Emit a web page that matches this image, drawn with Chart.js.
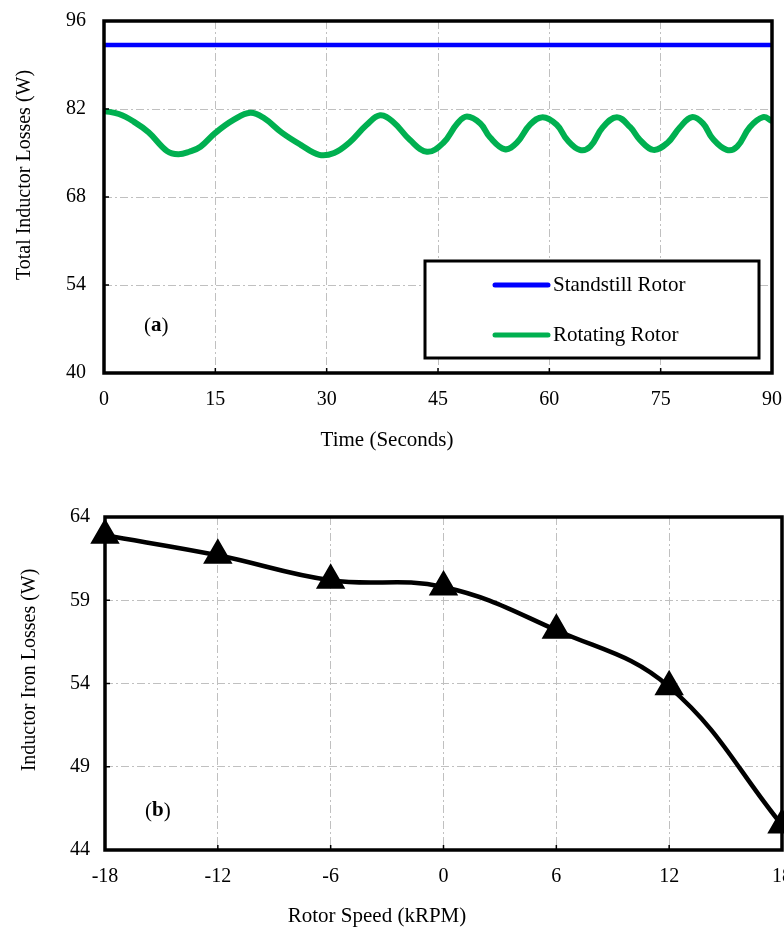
<!DOCTYPE html>
<html>
<head>
<meta charset="utf-8">
<script src="https://cdn.jsdelivr.net/npm/chart.js@4.4.1/dist/chart.umd.min.js"></script>
<style>
  html, body { margin: 0; padding: 0; background: #fff; }
  .box { position: relative; width: 784px; }
  #boxA { height: 470px; }
  #boxB { height: 464px; }
</style>
</head>
<body>
<div class="box" id="boxA"><canvas id="chartA"></canvas></div>
<div class="box" id="boxB"><canvas id="chartB"></canvas></div>
<script>
// ---------- Data (a) ----------
const standstillTime = [0, 90];
const standstillLoss = [92.2, 92.2];
const rotatingTime = [0, 2, 4, 6, 8.5, 10, 11.5, 13, 15, 17.5, 19.7, 21.5, 24, 26.5, 29, 31, 33, 35.4, 37.2, 39, 41.2, 43.5, 45.7, 47.6, 48.9, 50.7, 52, 54, 55.6, 57.4, 59.1, 61, 62.4, 64.1, 65.5, 67.2, 69.1, 70.9, 72.2, 74, 75.9, 77.6, 79.2, 80.7, 82, 83.9, 85.3, 87, 88.8, 90];
const rotatingLoss = [81.7, 81.2, 80.0, 78.3, 75.3, 74.8, 75.2, 76.0, 78.2, 80.3, 81.4, 80.6, 78.2, 76.3, 74.7, 75.0, 76.6, 79.5, 81.0, 79.9, 77.1, 75.2, 76.6, 79.7, 80.8, 79.7, 77.5, 75.6, 76.6, 79.5, 80.7, 79.5, 77.1, 75.5, 76.0, 79.1, 80.7, 79.1, 77.1, 75.5, 76.6, 79.1, 80.7, 79.7, 77.3, 75.5, 76.0, 79.1, 80.7, 80.1];
const seriesLabels = ["Standstill Rotor", "Rotating Rotor"];
const timeTicks = [0, 15, 30, 45, 60, 75, 90];
const lossTicksA = [40, 54, 68, 82, 96];

// ---------- Data (b) ----------
const rotorSpeed = [-18, -12, -6, 0, 6, 12, 18];
const ironLoss = [62.9, 61.7, 60.2, 59.8, 57.2, 53.8, 45.5];
const speedTicks = [-18, -12, -6, 0, 6, 12, 18];
const lossTicksB = [44, 49, 54, 59, 64];

const FONT = "'Liberation Serif', 'Times New Roman', serif";
const GRID = { color: '#c0c0c0', lineWidth: 1, drawTicks: false };
const BORDER = { display: false, dash: [8, 3, 2, 3] };

function toXY(xs, ys) { return xs.map((x, i) => ({ x: x, y: ys[i] })); }

function framePlugin(opts) {
  return {
    id: 'frame' + opts.id,
    afterDraw(chart) {
      const ctx = chart.ctx, a = chart.chartArea;
      const xs = chart.scales.x, ys = chart.scales.y;
      ctx.save();
      ctx.strokeStyle = '#000'; ctx.lineWidth = 1.5;
      xs.ticks.forEach(t => {
        const px = xs.getPixelForValue(t.value);
        ctx.beginPath(); ctx.moveTo(px, a.bottom); ctx.lineTo(px, a.bottom - 5); ctx.stroke();
      });
      ys.ticks.forEach(t => {
        const py = ys.getPixelForValue(t.value);
        ctx.beginPath(); ctx.moveTo(a.left, py); ctx.lineTo(a.left + 5, py); ctx.stroke();
      });
      ctx.lineWidth = 3.5; ctx.strokeStyle = '#000';
      ctx.strokeRect(a.left, a.top, a.right - a.left, a.bottom - a.top);
      ctx.fillStyle = '#000';
      ctx.font = '21px ' + FONT;
      ctx.textAlign = 'center'; ctx.textBaseline = 'middle';
      ctx.fillText(opts.xTitle, opts.xTitleX, opts.xTitleY);
      ctx.save();
      ctx.font = '20px ' + FONT;
      ctx.translate(opts.yTitleX, opts.yTitleY);
      ctx.rotate(-Math.PI / 2);
      ctx.fillText(opts.yTitle, 0, 0);
      ctx.restore();
      ctx.textAlign = 'left';
      const tx = opts.tagX, ty = opts.tagY;
      ctx.font = '21px ' + FONT;
      let w1 = ctx.measureText('(').width;
      ctx.fillText('(', tx, ty);
      ctx.font = 'bold 21px ' + FONT;
      let w2 = ctx.measureText(opts.tag).width;
      ctx.fillText(opts.tag, tx + w1, ty);
      ctx.font = '21px ' + FONT;
      ctx.fillText(')', tx + w1 + w2, ty);
      if (opts.legend) {
        const L = opts.legend;
        ctx.fillStyle = '#fff';
        ctx.fillRect(L.x, L.y, L.w, L.h);
        ctx.lineWidth = 3; ctx.strokeStyle = '#000';
        ctx.strokeRect(L.x, L.y, L.w, L.h);
        chart.data.datasets.forEach((ds, i) => {
          const ly = L.y + 24 + i * 50;
          ctx.strokeStyle = ds.borderColor; ctx.lineWidth = 5; ctx.lineCap = 'round';
          ctx.beginPath(); ctx.moveTo(L.x + 70, ly); ctx.lineTo(L.x + 123, ly); ctx.stroke();
          ctx.fillStyle = '#000'; ctx.font = '21px ' + FONT;
          ctx.textAlign = 'left'; ctx.textBaseline = 'middle';
          ctx.fillText(ds.label, L.x + 128, ly);
        });
      }
      ctx.restore();
    }
  };
}

function fixScale(width, height) {
  return function (scale) {
    if (width !== null) scale.width = width;
    if (height !== null) scale.height = height;
    scale.paddingLeft = 0; scale.paddingRight = 0;
    scale.paddingTop = 0; scale.paddingBottom = 0;
  };
}

// ---------- Chart (a) ----------
new Chart(document.getElementById('chartA'), {
  type: 'line',
  data: {
    datasets: [
      { label: seriesLabels[0], data: toXY(standstillTime, standstillLoss), borderColor: '#0000ff', borderWidth: 4.5, pointRadius: 0, tension: 0 },
      { label: seriesLabels[1], data: toXY(rotatingTime, rotatingLoss), borderColor: '#00b050', borderWidth: 6, pointRadius: 0, tension: 0.4 }
    ]
  },
  options: {
    responsive: true, maintainAspectRatio: false, animation: false,
    layout: { autoPadding: false, padding: { top: 21, right: 12, left: 0, bottom: 0 } },
    plugins: { legend: { display: false }, tooltip: { enabled: false } },
    scales: {
      x: {
        type: 'linear', min: 0, max: 90,
        afterBuildTicks: s => { s.ticks = timeTicks.map(v => ({ value: v })); },
        afterFit: fixScale(null, 97),
        grid: GRID, border: BORDER,
        ticks: { color: '#000', padding: 15, font: { family: FONT, size: 20 }, maxRotation: 0 }
      },
      y: {
        min: 40, max: 96,
        afterBuildTicks: s => { s.ticks = lossTicksA.map(v => ({ value: v })); },
        afterFit: fixScale(104, null),
        grid: GRID, border: BORDER,
        ticks: { color: '#000', padding: 18, font: { family: FONT, size: 20 } }
      }
    }
  },
  plugins: [framePlugin({
    id: 'A', xTitle: 'Time (Seconds)', xTitleX: 387, xTitleY: 440,
    yTitle: 'Total Inductor Losses (W)', yTitleX: 25, yTitleY: 175,
    tag: 'a', tagX: 144, tagY: 326,
    legend: { x: 425, y: 261, w: 334, h: 97 }
  })]
});

// ---------- Chart (b) ----------
new Chart(document.getElementById('chartB'), {
  type: 'line',
  data: {
    datasets: [
      { label: 'Iron Losses', data: toXY(rotorSpeed, ironLoss), borderColor: '#000', backgroundColor: '#000', borderWidth: 4.5,
        pointStyle: 'triangle', pointRadius: 12.5, pointBackgroundColor: '#000', pointBorderColor: '#000', tension: 0.4, clip: false }
    ]
  },
  options: {
    responsive: true, maintainAspectRatio: false, animation: false,
    layout: { autoPadding: false, padding: { top: 47, right: 2, left: 0, bottom: 0 } },
    plugins: { legend: { display: false }, tooltip: { enabled: false } },
    scales: {
      x: {
        type: 'linear', min: -18, max: 18,
        afterBuildTicks: s => { s.ticks = speedTicks.map(v => ({ value: v })); },
        afterFit: fixScale(null, 84),
        grid: GRID, border: BORDER,
        ticks: { color: '#000', padding: 15, font: { family: FONT, size: 20 }, maxRotation: 0 }
      },
      y: {
        min: 44, max: 64,
        afterBuildTicks: s => { s.ticks = lossTicksB.map(v => ({ value: v })); },
        afterFit: fixScale(105, null),
        grid: GRID, border: BORDER,
        ticks: { color: '#000', padding: 15, font: { family: FONT, size: 20 } }
      }
    }
  },
  plugins: [framePlugin({
    id: 'B', xTitle: 'Rotor Speed (kRPM)', xTitleX: 377, xTitleY: 446,
    yTitle: 'Inductor Iron Losses (W)', yTitleX: 30, yTitleY: 200,
    tag: 'b', tagX: 145, tagY: 341,
    legend: null
  })]
});
</script>
</body>
</html>
